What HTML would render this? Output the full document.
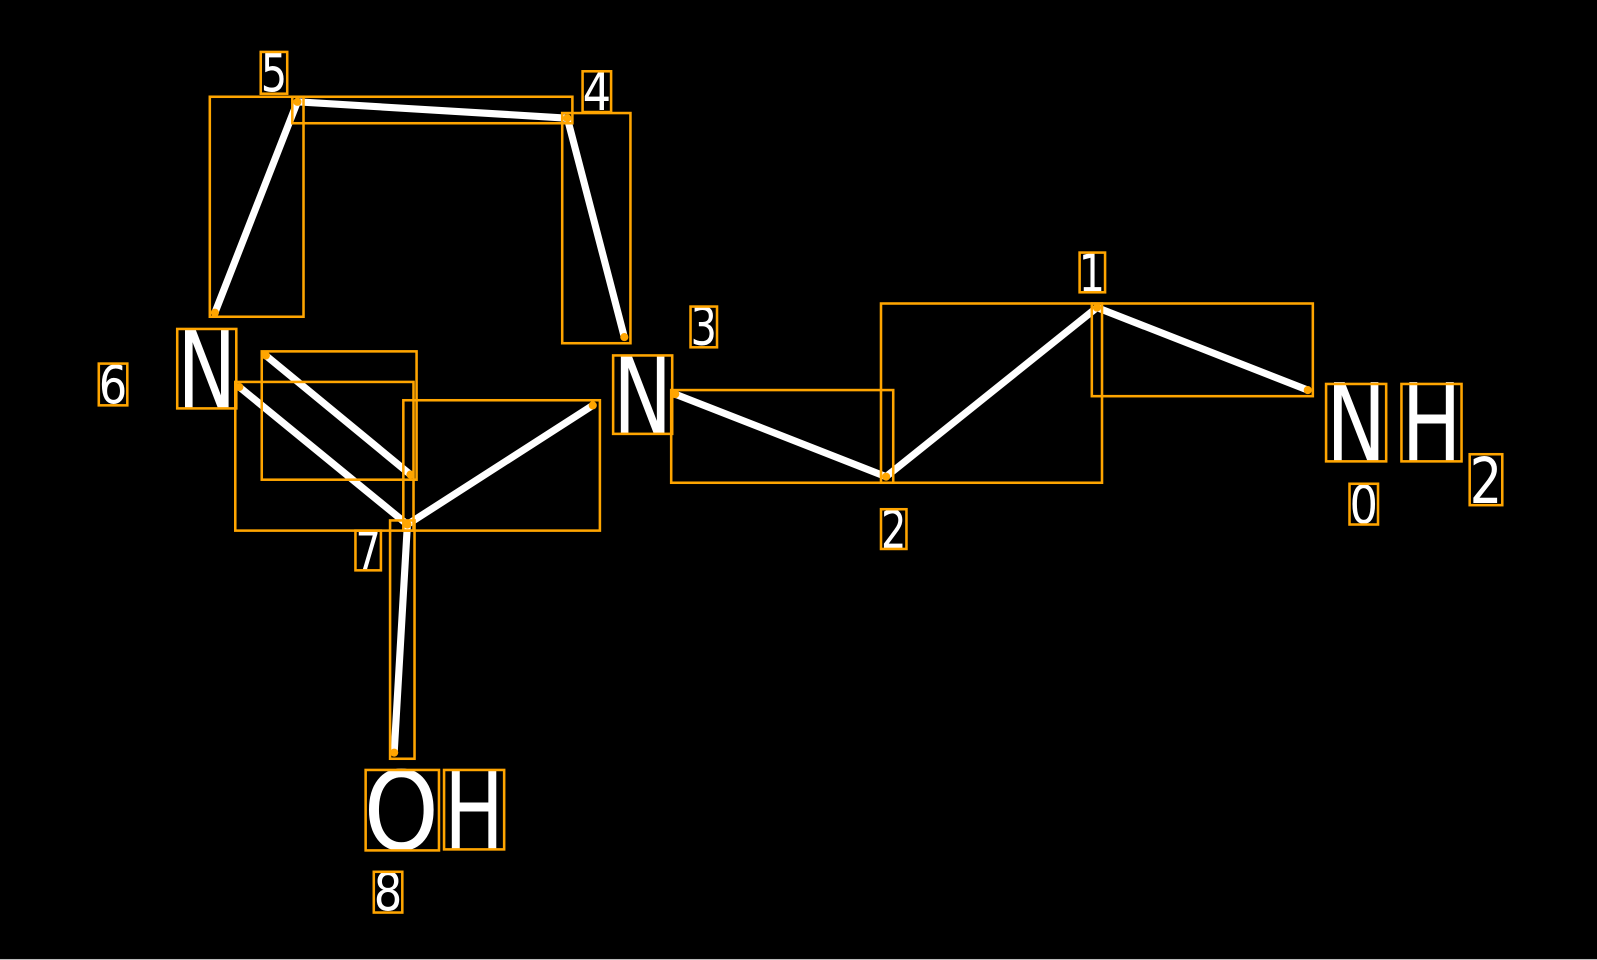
<!DOCTYPE html>
<html><head><meta charset="utf-8"><style>
html,body{margin:0;padding:0;background:#000;width:1597px;height:960px;overflow:hidden}
svg{display:block}
text{font-family:"DejaVu Sans","Liberation Sans",sans-serif;fill:#fff}
</style></head><body>
<svg width="1597" height="960" viewBox="0 0 1568 942.6" preserveAspectRatio="none">
<rect x="0" y="0" width="1568" height="942.6" fill="#000"/>
<rect x="0" y="941.6" width="1568" height="1" fill="#bbb"/>
<g stroke="#fff" stroke-width="7" stroke-linecap="round">
<line x1="292" y1="100" x2="557" y2="116"/>
<line x1="292" y1="100" x2="211" y2="307"/>
<line x1="557" y1="116" x2="613" y2="331"/>
<line x1="261" y1="349" x2="403" y2="466"/>
<line x1="235" y1="380" x2="400" y2="515"/>
<line x1="400" y1="515" x2="582" y2="398"/>
<line x1="400" y1="515" x2="387" y2="739"/>
<line x1="663" y1="387" x2="870" y2="468"/>
<line x1="870" y1="468" x2="1077" y2="302"/>
<line x1="1077" y1="302" x2="1284" y2="383"/>
</g>
<g fill="#FFA500">
<circle cx="292" cy="100" r="4"/><circle cx="557" cy="116" r="4"/><circle cx="211" cy="307" r="4"/>
<circle cx="613" cy="331" r="4"/><circle cx="261" cy="349" r="4"/><circle cx="403" cy="466" r="4"/>
<circle cx="235" cy="380" r="4"/><circle cx="400" cy="515" r="4"/><circle cx="582" cy="398" r="4"/>
<circle cx="387" cy="739" r="4"/><circle cx="663" cy="387" r="4"/><circle cx="870" cy="468" r="4"/>
<circle cx="1077" cy="302" r="4"/><circle cx="1284" cy="383" r="4"/>
</g>
<g text-anchor="start">
<text x="174" y="401" font-size="107" textLength="58" lengthAdjust="spacingAndGlyphs">N</text>
<text x="602" y="426" font-size="107" textLength="58" lengthAdjust="spacingAndGlyphs">N</text>
<text x="1302" y="453" font-size="107" textLength="59" lengthAdjust="spacingAndGlyphs">N</text>
<text x="1376" y="453" font-size="107" textLength="59" lengthAdjust="spacingAndGlyphs">H</text>
<text x="1443" y="494" font-size="62" textLength="32" lengthAdjust="spacingAndGlyphs">2</text>
<text x="357" y="834" font-size="107" textLength="74" lengthAdjust="spacingAndGlyphs">O</text>
<text x="436" y="834" font-size="107" textLength="59" lengthAdjust="spacingAndGlyphs">H</text>
<text x="256" y="90" font-size="52" textLength="26" lengthAdjust="spacingAndGlyphs">5</text>
<text x="572" y="108" font-size="52" textLength="28" lengthAdjust="spacingAndGlyphs">4</text>
<text x="1059" y="286" font-size="52" textLength="26" lengthAdjust="spacingAndGlyphs">1</text>
<text x="678" y="339" font-size="52" textLength="26" lengthAdjust="spacingAndGlyphs">3</text>
<text x="97" y="396" font-size="52" textLength="28" lengthAdjust="spacingAndGlyphs">6</text>
<text x="349" y="559" font-size="52" textLength="25" lengthAdjust="spacingAndGlyphs">7</text>
<text x="865" y="538" font-size="52" textLength="25" lengthAdjust="spacingAndGlyphs">2</text>
<text x="1325" y="514" font-size="52" textLength="28" lengthAdjust="spacingAndGlyphs">0</text>
<text x="367" y="894" font-size="52" textLength="28" lengthAdjust="spacingAndGlyphs">8</text>
</g>
<g fill="none" stroke="#FFA500" stroke-width="2.5">
<rect x="206" y="95" width="92" height="216"/>
<rect x="287" y="95" width="275" height="26"/>
<rect x="552" y="111" width="67" height="226"/>
<rect x="257" y="345" width="152" height="126"/>
<rect x="231" y="375" width="175" height="146"/>
<rect x="396" y="393" width="193" height="128"/>
<rect x="383" y="511" width="24" height="234"/>
<rect x="659" y="383" width="218" height="91"/>
<rect x="865" y="298" width="217" height="176"/>
<rect x="1072" y="298" width="217" height="91"/>
<rect x="256" y="51" width="26" height="41"/>
<rect x="572" y="70" width="28" height="40"/>
<rect x="1060" y="248" width="25" height="39"/>
<rect x="678" y="301" width="26" height="40"/>
<rect x="97" y="357" width="28" height="41"/>
<rect x="174" y="323" width="58" height="78"/>
<rect x="602" y="349" width="58" height="77"/>
<rect x="349" y="521" width="25" height="39"/>
<rect x="865" y="500" width="25" height="39"/>
<rect x="1302" y="377" width="59" height="76"/>
<rect x="1376" y="377" width="59" height="76"/>
<rect x="1443" y="446" width="32" height="50"/>
<rect x="1325" y="475" width="28" height="40"/>
<rect x="359" y="756" width="72" height="79"/>
<rect x="436" y="756" width="59" height="78"/>
<rect x="367" y="856" width="28" height="40"/>
</g>
</svg>
</body></html>
